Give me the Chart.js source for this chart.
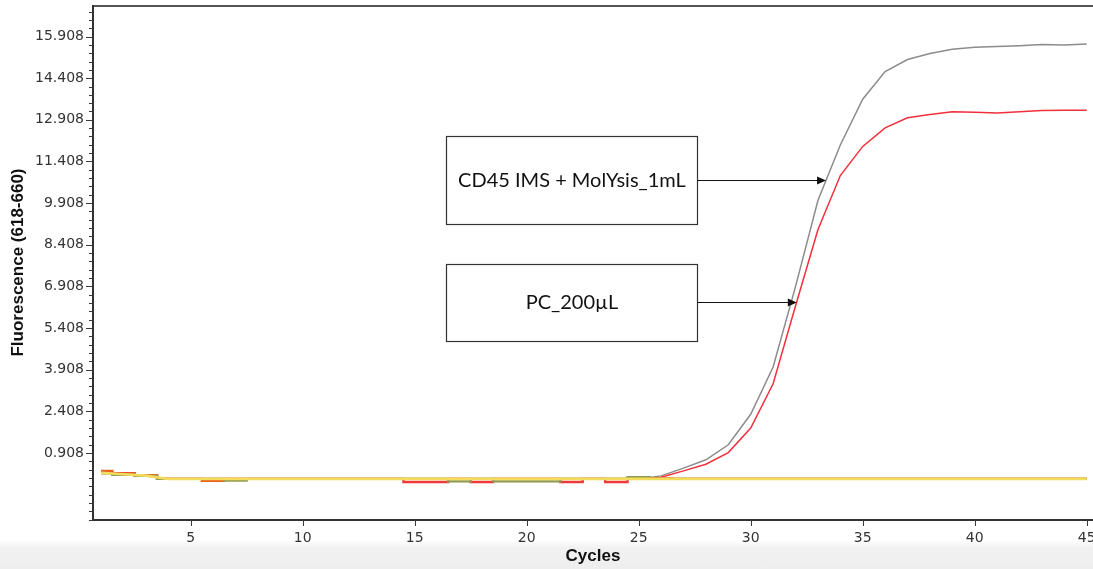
<!DOCTYPE html>
<html>
<head>
<meta charset="utf-8">
<title>Amplification curves</title>
<script src="https://cdn.jsdelivr.net/npm/chart.js@4.4.1/dist/chart.umd.min.js"></script>
<style>
  html, body { margin: 0; padding: 0; }
  body {
    width: 1093px;
    height: 569px;
    overflow: hidden;
    background: linear-gradient(to bottom, #fff 0, #fff 540px, #f1f1f1 548px, #eeeeee 569px);
  }
</style>
</head>
<body>
<canvas id="chart" width="1093" height="569"></canvas>
<script>
// cycle numbers
const cycles = [1, 2, 3, 4, 5, 6, 7, 8, 9, 10, 11, 12, 13, 14, 15, 16, 17, 18, 19, 20,
  21, 22, 23, 24, 25, 26, 27, 28, 29, 30, 31, 32, 33, 34, 35, 36, 37, 38, 39, 40,
  41, 42, 43, 44, 45];

// CD45 IMS + MolYsis_1mL (grey)
const molysis = [0.20, 0.14, 0.08, -0.03, -0.03, -0.03, -0.03, -0.03, -0.03, -0.03,
  -0.03, -0.03, -0.03, -0.03, -0.03, -0.03, -0.03, -0.03, -0.03, -0.03,
  -0.03, -0.03, -0.03, -0.03, -0.03, 0.08, 0.36, 0.66, 1.20, 2.30,
  4.00, 6.90, 10.00, 12.00, 13.65, 14.65, 15.08, 15.30, 15.45, 15.52,
  15.55, 15.58, 15.62, 15.60, 15.64];

// PC_200µL (red)
const pc200 = [0.22, 0.15, 0.09, -0.03, -0.03, -0.03, -0.03, -0.03, -0.03, -0.03,
  -0.03, -0.03, -0.03, -0.03, -0.03, -0.03, -0.03, -0.03, -0.03, -0.03,
  -0.03, -0.03, -0.03, -0.03, -0.03, 0.03, 0.26, 0.50, 0.92, 1.80,
  3.40, 6.20, 8.95, 10.90, 11.95, 12.62, 12.98, 13.10, 13.20, 13.18,
  13.15, 13.20, 13.24, 13.25, 13.25];

// flat traces near the baseline
const negCtrl = [0.19, 0.14, 0.09, -0.03, -0.03, -0.03, -0.03, -0.03, -0.03, -0.03,
  -0.03, -0.03, -0.03, -0.03, -0.03, -0.03, -0.03, -0.03, -0.03, -0.03,
  -0.03, -0.03, -0.03, -0.03, -0.03, -0.03, -0.03, -0.03, -0.03, -0.03,
  -0.03, -0.03, -0.03, -0.03, -0.03, -0.03, -0.03, -0.03, -0.03, -0.03,
  -0.03, -0.03, -0.03, -0.03, -0.03];
const traceOrange = [0.26, 0.16, 0.10, -0.03, -0.03, -0.10, -0.03, -0.03, -0.03, -0.03,
  -0.03, -0.03, -0.03, -0.03, -0.03, -0.03, -0.03, -0.03, -0.03, -0.03,
  -0.03, -0.03, -0.03, -0.03, -0.03, -0.01, -0.03, -0.03, -0.03, -0.03,
  -0.03, -0.03, -0.03, -0.03, -0.03, -0.03, -0.03, -0.03, -0.03, -0.03,
  -0.03, -0.03, -0.03, -0.03, -0.03];
const traceOlive = [0.17, 0.12, 0.08, -0.03, -0.03, -0.03, -0.09, -0.03, -0.03, -0.03,
  -0.03, -0.03, -0.03, -0.03, -0.03, -0.03, -0.12, -0.03, -0.12, -0.12,
  -0.12, -0.03, -0.03, -0.03, 0.03, -0.03, -0.03, -0.03, -0.03, -0.03,
  -0.03, -0.03, -0.03, -0.03, -0.03, -0.03, -0.03, -0.03, -0.03, -0.03,
  -0.03, -0.03, -0.03, -0.03, -0.03];
const traceRed = [0.22, 0.18, 0.08, -0.03, -0.03, -0.03, -0.03, -0.03, -0.03, -0.03,
  -0.03, -0.03, -0.03, -0.03, -0.14, -0.14, -0.03, -0.14, -0.03, -0.03,
  -0.03, -0.14, -0.03, -0.14, -0.03, -0.03, -0.03, -0.03, -0.03, -0.03,
  -0.03, -0.03, -0.03, -0.03, -0.03, -0.03, -0.03, -0.03, -0.03, -0.03,
  -0.03, -0.03, -0.03, -0.03, -0.03];

// axis ticks
const xTicks = [5, 10, 15, 20, 25, 30, 35, 40, 45];
const yMajorTicks = [0.908, 2.408, 3.908, 5.408, 6.908, 8.408, 9.908, 11.408, 12.908, 14.408, 15.908];
const yMinorStep = 0.3;

const FONT = "'DejaVu Sans', sans-serif";
const TITLE_FONT = "'Liberation Sans', Arial, sans-serif";

// labelled boxes with an arrow pointing at a curve (box corners in data units)
const notes = [
  { text: 'CD45 IMS + MolYsis_1mL', x0: 16.4, x1: 27.6, yTop: 12.32, yBottom: 9.14, arrowY: 10.73, target: molysis },
  { text: 'PC_200µL', x0: 16.4, x1: 27.6, yTop: 7.73, yBottom: 4.95, arrowY: 6.36, target: pc200 }
];

const toPoints = values => values.map((v, i) => ({ x: cycles[i], y: v }));

// cycle at which a series first crosses the given level
function crossing(values, level) {
  for (let i = 1; i < values.length; i++) {
    if (values[i - 1] < level && values[i] >= level) {
      const t = (level - values[i - 1]) / (values[i] - values[i - 1]);
      return cycles[i - 1] + t * (cycles[i] - cycles[i - 1]);
    }
  }
  return cycles[cycles.length - 1];
}

function buildYTicks(min, max) {
  const list = [];
  let v = yMajorTicks[0];
  while (v - yMinorStep >= min) v -= yMinorStep;
  for (; v <= max; v += yMinorStep) list.push(Math.round(v * 1000) / 1000);
  return list;
}
const isMajor = v => yMajorTicks.some(m => Math.abs(m - v) < 1e-6);

// no extra room around the scales, the plot area is set by the layout padding
const noScalePadding = s => {
  s.paddingTop = 0;
  s.paddingBottom = 0;
  s.paddingLeft = 0;
  s.paddingRight = 0;
};

// frame, tick marks and the labelled arrows
const framePlugin = {
  id: 'frame',
  afterDatasetsDraw(chart) {
    const { ctx, chartArea: a, scales: { x, y } } = chart;
    ctx.save();

    // tick marks
    ctx.strokeStyle = '#3a3a3a';
    ctx.lineWidth = 1;
    ctx.beginPath();
    y.ticks.forEach(t => {
      const py = Math.round(y.getPixelForValue(t.value)) + 0.5;
      const len = isMajor(t.value) ? 7 : 4;
      ctx.moveTo(a.left - len, py);
      ctx.lineTo(a.left, py);
    });
    x.ticks.forEach(t => {
      const px = Math.round(x.getPixelForValue(t.value)) + 0.5;
      ctx.moveTo(px, a.bottom);
      ctx.lineTo(px, a.bottom + 6);
    });
    ctx.stroke();

    // top border
    ctx.strokeStyle = '#555';
    ctx.lineWidth = 2;
    ctx.beginPath();
    ctx.moveTo(a.left, a.top + 1);
    ctx.lineTo(chart.width, a.top + 1);
    ctx.stroke();

    // axis lines
    ctx.strokeStyle = '#333';
    ctx.beginPath();
    ctx.moveTo(a.left, a.top);
    ctx.lineTo(a.left, a.bottom);
    ctx.lineTo(chart.width, a.bottom);
    ctx.stroke();

    // boxes and arrows
    notes.forEach(n => {
      const left = Math.round(x.getPixelForValue(n.x0)) + 0.5;
      const right = Math.round(x.getPixelForValue(n.x1)) + 0.5;
      const top = Math.round(y.getPixelForValue(n.yTop)) + 0.5;
      const bottom = Math.round(y.getPixelForValue(n.yBottom)) + 0.5;
      ctx.fillStyle = '#fff';
      ctx.fillRect(left, top, right - left, bottom - top);
      ctx.strokeStyle = '#333';
      ctx.lineWidth = 1.2;
      ctx.strokeRect(left, top, right - left, bottom - top);

      ctx.fillStyle = '#111';
      ctx.font = "20px Lato, 'Open Sans', sans-serif";
      ctx.textAlign = 'center';
      ctx.textBaseline = 'middle';
      ctx.fillText(n.text, (left + right) / 2, (top + bottom) / 2);

      const ay = Math.round(y.getPixelForValue(n.arrowY)) + 0.5;
      const tip = x.getPixelForValue(crossing(n.target, n.arrowY));
      ctx.strokeStyle = '#111';
      ctx.lineWidth = 1;
      ctx.beginPath();
      ctx.moveTo(right, ay);
      ctx.lineTo(tip - 8, ay);
      ctx.stroke();
      ctx.beginPath();
      ctx.moveTo(tip, ay);
      ctx.lineTo(tip - 9, ay - 4);
      ctx.lineTo(tip - 9, ay + 4);
      ctx.closePath();
      ctx.fill();
    });
    ctx.restore();
  }
};

const line = (data, color, width, order, stepped) => ({
  data: toPoints(data),
  borderColor: color,
  borderWidth: width,
  pointRadius: 0,
  tension: 0,
  stepped: stepped || false,
  order
});

new Chart(document.getElementById('chart'), {
  type: 'line',
  data: {
    datasets: [
      line(negCtrl, '#f3dc5c', 2.6, 0),
      line(traceOlive, '#8e9a52', 2.4, 1, 'middle'),
      line(traceOrange, '#e8621e', 2.4, 2, 'middle'),
      line(traceRed, '#ee3a3a', 2.4, 3, 'middle'),
      line(pc200, '#f2303c', 1.5, 4),
      line(molysis, '#8c8c8c', 1.5, 5)
    ]
  },
  options: {
    responsive: false,
    animation: false,
    layout: { padding: { left: 8, top: 5, right: 0, bottom: 2 }, autoPadding: false },
    plugins: { legend: { display: false }, tooltip: { enabled: false } },
    scales: {
      x: {
        type: 'linear',
        min: 0.64,
        max: 45.28,
        afterBuildTicks: s => { s.ticks = xTicks.map(v => ({ value: v })); },
        afterFit: s => { s.height = 47; noScalePadding(s); },
        grid: { drawOnChartArea: false, color: 'rgba(0,0,0,0)', tickLength: 7 },
        border: { display: false },
        ticks: { font: { family: FONT, size: 14 }, color: '#333', padding: 3, maxRotation: 0, autoSkip: false },
        title: { display: true, text: 'Cycles', font: { family: TITLE_FONT, size: 17, weight: 'bold' }, color: '#111', padding: 0 }
      },
      y: {
        type: 'linear',
        min: -1.51,
        max: 17.045,
        afterBuildTicks: s => { s.ticks = buildYTicks(s.min, s.max).map(v => ({ value: v })); },
        afterFit: s => { s.width = 85; noScalePadding(s); },
        grid: { drawOnChartArea: false, color: 'rgba(0,0,0,0)', tickLength: 7 },
        border: { display: false },
        ticks: {
          font: { family: FONT, size: 14 },
          color: '#333',
          padding: 2,
          autoSkip: false,
          callback: v => isMajor(v) ? v.toFixed(3) : ''
        },
        title: { display: true, text: 'Fluorescence (618-660)', font: { family: TITLE_FONT, size: 17, weight: 'bold' }, color: '#111', padding: 0 }
      }
    }
  },
  plugins: [framePlugin]
});
</script>
</body>
</html>
